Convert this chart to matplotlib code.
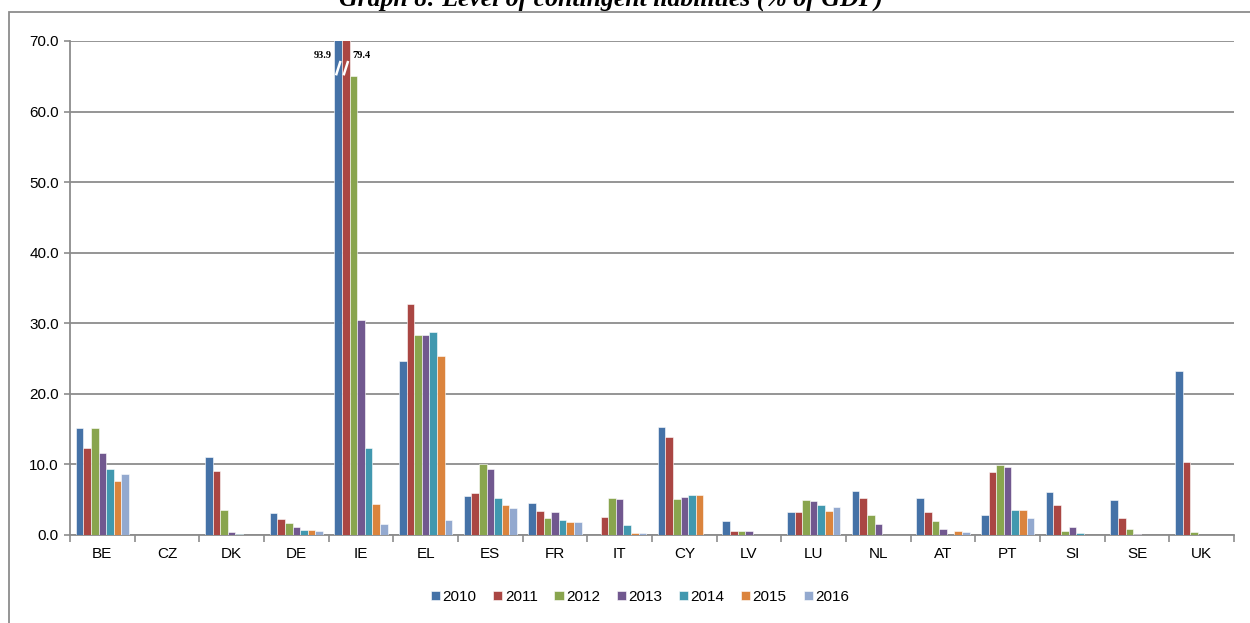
import matplotlib
matplotlib.use("Agg")
import matplotlib.pyplot as plt
from matplotlib.patches import Rectangle
import numpy as np

countries = ["BE", "CZ", "DK", "DE", "IE", "EL", "ES", "FR", "IT", "CY",
             "LV", "LU", "NL", "AT", "PT", "SI", "SE", "UK"]
years = ["2010", "2011", "2012", "2013", "2014", "2015", "2016"]

# values per year, one entry per country (% of GDP)
v2010 = [15.2, 0.0, 11.1, 3.1, 93.9, 24.7, 5.5, 4.5, 0.0, 15.3, 2.0, 3.3, 6.3, 5.3, 2.9, 6.1, 5.0, 23.2]
v2011 = [12.3, 0.0, 9.0, 2.2, 79.4, 32.8, 6.0, 3.4, 2.6, 13.9, 0.5, 3.2, 5.3, 3.2, 8.9, 4.2, 2.4, 10.3]
v2012 = [15.2, 0.0, 3.6, 1.7, 65.0, 28.3, 10.0, 2.4, 5.3, 5.1, 0.5, 5.0, 2.8, 2.0, 9.9, 0.5, 0.8, 0.4]
v2013 = [11.6, 0.0, 0.4, 1.2, 30.4, 28.3, 9.3, 3.2, 5.1, 5.4, 0.5, 4.8, 1.6, 0.9, 9.6, 1.1, 0.2, 0.0]
v2014 = [9.3, 0.0, 0.2, 0.7, 12.3, 28.7, 5.3, 2.1, 1.4, 5.6, 0.0, 4.3, 0.0, 0.0, 3.6, 0.3, 0.0, 0.0]
v2015 = [7.6, 0.0, 0.0, 0.7, 4.4, 25.4, 4.3, 1.8, 0.3, 5.6, 0.0, 3.4, 0.0, 0.5, 3.5, 0.0, 0.0, 0.0]
v2016 = [8.7, 0.0, 0.0, 0.5, 1.5, 2.1, 3.8, 1.9, 0.3, 0.0, 0.0, 3.9, 0.0, 0.4, 2.4, 0.0, 0.0, 0.0]

series = [v2010, v2011, v2012, v2013, v2014, v2015, v2016]
colors = ["#4572A7", "#AA4643", "#89A54E", "#71588F", "#4198AF", "#DB843D", "#93A9CF"]

YMAX = 70.0
GRID = "#8c8c8c"

plt.rcParams["font.family"] = ["Liberation Sans", "DejaVu Sans"]

fig = plt.figure(figsize=(12.5, 6.23), dpi=100)
ax = fig.add_axes([70 / 1250, 1 - 535 / 623, (1234 - 70) / 1250, (535 - 41) / 623])

x = np.arange(len(countries))
n = len(series)
width = 0.82 / n
for i, (vals, col, yr) in enumerate(zip(series, colors, years)):
    pos = x - 0.41 + width * (i + 0.5)
    ax.bar(pos, vals, width=width, color=col, edgecolor="white", linewidth=0.4,
           label=yr, zorder=3)

# values beyond the axis: break marks and labels
for i, vals in enumerate(series):
    for j, v in enumerate(vals):
        if v > YMAX:
            pos = x[j] - 0.41 + width * (i + 0.5)
            ax.plot([pos - width * 0.25, pos + width * 0.25], [65.3, 67.0],
                    color="white", lw=1.8, zorder=4, clip_on=False)
            if i == 0:
                ax.text(pos - width * 0.8, 67.9, f"{v:.1f}", ha="right", va="center",
                        fontsize=7.5, fontweight="bold", family="Liberation Serif")
            else:
                ax.text(pos + width * 0.9, 67.9, f"{v:.1f}", ha="left", va="center",
                        fontsize=7.5, fontweight="bold", family="Liberation Serif")

ax.set_xlim(-0.5, len(countries) - 0.5)
ax.set_ylim(0, YMAX)
ax.set_yticks(np.arange(0, 71, 10))
ax.set_yticklabels([f"{t:.1f}" for t in np.arange(0, 71, 10)], fontsize=11)
ax.yaxis.grid(True, color=GRID, lw=1.3, zorder=0)
ax.set_axisbelow(True)

ax.set_xticks(x)
ax.set_xticklabels(countries, fontsize=11)
ax.tick_params(axis="x", length=0, pad=9)
ax.set_xticks(np.arange(-0.5, len(countries)), minor=True)
ax.tick_params(axis="x", which="minor", length=5, color=GRID, width=1.2)
ax.tick_params(axis="y", length=4, color=GRID, width=1.2, pad=4)

for side in ["top", "right"]:
    ax.spines[side].set_visible(False)
for side in ["left", "bottom"]:
    ax.spines[side].set_color(GRID)
    ax.spines[side].set_linewidth(1.3)

ax.legend(loc="center", bbox_to_anchor=(0.512, 1 - 597 / 623), bbox_transform=fig.transFigure,
          ncol=7, frameon=False, fontsize=11, handlelength=0.6, handleheight=0.6,
          handletextpad=0.15, columnspacing=1.1)

# outer chart frame
fig.patches.append(Rectangle((9 / 1250, -0.2), 1.5, 1 - 12 / 623 + 0.2, transform=fig.transFigure,
                             fill=False, edgecolor=GRID, lw=1.3))

fig.text(0.489, 1 - 6 / 623, "Graph 8: Level of contingent liabilities (% of GDP)",
         ha="center", va="baseline", fontsize=18.5, fontweight="bold", fontstyle="italic",
         family="Liberation Serif")

fig.savefig("out.png", dpi=100)
